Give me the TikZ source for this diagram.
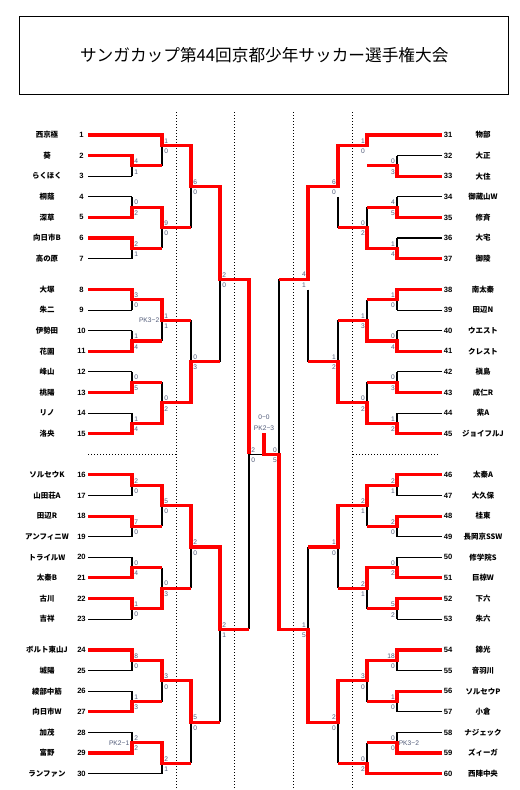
\documentclass[tikz,border=0pt]{standalone}
\usepackage{fontspec}
\setmainfont{Liberation Sans}
\newfontfamily\jpfont{Noto Sans CJK JP}
\definecolor{scoreink}{RGB}{80,90,120}
\tikzset{
    px/.style={x=0.75pt, y=-0.75pt},
    rows/.style={y=-7.725pt, yshift=-101.25pt},
    win/.style={draw=red, line width=2.3pt},
    lose/.style={draw=black, line width=0.8pt},
    guide/.style={draw=black, line width=0.75pt, dash pattern=on 0.75pt off 1.5pt},
    banner/.style={draw, line width=0.8pt, minimum width=367pt, minimum height=59pt,
                   font=\jpfont\fontsize{12.5}{14}\selectfont},
    club/.style={font=\jpfont\bfseries\fontsize{5.6}{6}\selectfont, inner sep=0pt},
    seed/.style={font=\bfseries\fontsize{5.7}{6}\selectfont, inner sep=0pt},
    score/.style={font=\fontsize{5}{6}\selectfont, text=scoreink, inner sep=0pt},
    scoreL/.style={score, anchor=west, xshift=1.5pt},
    scoreR/.style={score, anchor=east, xshift=-1.5pt},
}

\begin{document}
\begin{tikzpicture}[px]
    \useasboundingbox (0,0) rectangle (519,790);

    \node[banner] (title) at (264.25,55.5) {サンガカップ第44回京都少年サッカー選手権大会};

    % round separators
    \draw[guide] (176.7,112) -- (176.7,790);
    \draw[guide] (234,112) -- (234,790);
    \draw[guide] (293.3,112) -- (293.3,790);
    \draw[guide] (352,112) -- (352,790);
    \draw[guide] (88,454) -- (177,454);
    \draw[guide] (353,454) -- (440,454);

    \begin{scope}[rows]
    % clubs, left half
    \foreach \no/\row/\name in {1/0/西京極, 2/2/葵, 3/4/らくほく, 4/6/桐蔭, 5/8/深草,
        6/10/向日市B, 7/12/高の原, 8/15/大塚, 9/17/朱二, 10/19/伊勢田, 11/21/花園,
        12/23/峰山, 13/25/桃陽, 14/27/リノ, 15/29/洛央, 16/33/ソルセウK, 17/35/山田荘A,
        18/37/田辺R, 19/39/アンフィニW, 20/41/トライルW, 21/43/太秦B, 22/45/古川,
        23/47/吉祥, 24/50/ボルト東山J, 25/52/城陽, 26/54/綾部中筋, 27/56/向日市W,
        28/58/加茂, 29/60/富野, 30/62/ランファン}{
        \node[club] (club\no) at (47,\row) {\name};
        \node[seed] (seed\no) at (81.5,\row) {\no};
        \coordinate (line\no) at (88,\row);
    }
    % clubs, right half
    \foreach \no/\row/\name in {31/0/物部, 32/2/大正, 33/4/大住, 34/6/御蔵山W, 35/8/修斉,
        36/10/大宅, 37/12/御陵, 38/15/南太秦, 39/17/田辺N, 40/19/ウエスト, 41/21/クレスト,
        42/23/槇島, 43/25/成仁R, 44/27/紫A, 45/29/ジョイフルJ, 46/33/太秦A, 47/35/大久保,
        48/37/桂東, 49/39/長岡京SSW, 50/41/修学院S, 51/43/巨椋W, 52/45/下六, 53/47/朱六,
        54/50/錦光, 55/52/音羽川, 56/54/ソルセウP, 57/56/小倉, 58/58/ナジェック,
        59/60/ズィーガ, 60/62/西陣中央}{
        \node[club] (club\no) at (483,\row) {\name};
        \node[seed] (seed\no) at (448,\row) {\no};
        \coordinate (line\no) at (442,\row);
    }

    % beaten in their first game
    \foreach \no in {3,4,7,9,10,12,14,17,19,20,23,25,26,28}
        \draw[lose] (line\no) -- ++(44,0);
    \draw[lose] (line30) -- ++(74,0);
    \foreach \no in {32,34,36,39,40,42,44,47,49,50,53,55,57,58}
        \draw[lose] (line\no) -- ++(-45,0);

    % games, left half: x / top / bottom / out / scores
    \foreach \x/\top/\bot/\out/\up/\dn in {132/2/4/3/4/1, 132/6/8/7/0/2, 132/10/12/11/2/1,
        162/0/3/1/1/0, 162/7/11/9/9/0, 191/1/9/5/6/0, 132/15/17/16/3/0, 132/19/21/20/1/4,
        132/23/25/24/0/5, 132/27/29/28/1/4, 162/16/20/18/1/1, 162/24/28/26/0/2,
        191/18/26/22/0/3, 220/5/22/14/2/0, 132/33/35/34/2/0, 132/37/39/38/7/0,
        132/41/43/42/0/4, 132/45/47/46/1/0, 162/34/38/36/5/0, 162/42/46/44/0/3,
        191/36/44/40/2/0, 132/50/52/51/8/0, 132/54/56/55/1/3, 132/58/60/59/2/2,
        162/59/62/61/2/1, 162/51/55/53/3/0, 191/53/61/57/5/0, 220/40/57/48/2/1,
        249/14/48/31/2/0}{
        \draw[lose] (\x,\top) -- (\x,\bot);
        \node[scoreL, yshift=3.4pt] (up-\x-\out) at (\x,\out) {\up};
        \node[scoreL, yshift=-4.4pt] (dn-\x-\out) at (\x,\out) {\dn};
    }
    % games, right half
    \foreach \x/\top/\bot/\out/\up/\dn in {397/2/4/3/0/3, 397/6/8/7/4/5, 397/10/12/11/1/4,
        367/0/1/1/1/0, 367/7/11/9/0/2, 338/6/9/5/6/0, 397/15/17/16/1/0, 397/19/21/20/0/4,
        397/23/25/24/0/3, 397/27/29/28/1/2, 367/16/20/18/1/3, 367/24/28/26/0/2,
        338/18/26/22/1/2, 308/15/22/14/4/1, 397/33/35/34/2/1, 397/37/39/38/2/0,
        397/41/43/42/0/2, 397/45/47/46/5/2, 367/34/38/36/2/1, 367/42/46/44/2/1,
        338/36/44/40/1/0, 397/50/52/51/18/0, 397/54/56/55/1/0, 397/58/60/59/0/0,
        367/59/62/61/0/2, 367/51/55/53/3/0, 338/53/61/57/2/0, 308/40/57/48/1/5,
        279/14/48/31/0/5}{
        \draw[lose] (\x,\top) -- (\x,\bot);
        \node[scoreR, yshift=3.4pt] (up-\x-\out) at (\x,\out) {\up};
        \node[scoreR, yshift=-4.4pt] (dn-\x-\out) at (\x,\out) {\dn};
    }
    \draw[lose] (249,31) -- (264,31);

    % winners' runs
    \draw[win] (line1) -| (162,1) -| (191,5) -| (220,14) -| (249,31);
    \draw[win] (line2) -| (132,3) -- (162,3);
    \draw[win] (line5) -| (132,7) -| (162,9) -- (191,9);
    \draw[win] (line6) -| (132,11) -- (162,11);
    \draw[win] (line8) -| (132,16) -| (162,18) -- (191,18);
    \draw[win] (line11) -| (132,20) -- (162,20);
    \draw[win] (line13) -| (132,24) -- (162,24);
    \draw[win] (line15) -| (132,28) -| (162,26) -| (191,22) -- (220,22);
    \draw[win] (line16) -| (132,34) -| (162,36) -| (191,40) -| (220,48) -- (249,48);
    \draw[win] (line18) -| (132,38) -- (162,38);
    \draw[win] (line21) -| (132,42) -- (162,42);
    \draw[win] (line22) -| (132,46) -| (162,44) -- (191,44);
    \draw[win] (line24) -| (132,51) -| (162,53) -| (191,57) -- (220,57);
    \draw[win] (line27) -| (132,55) -- (162,55);
    \draw[win] (line29) -| (132,59) -| (162,61) -- (191,61);

    \draw[win] (line31) -| (367,1) -| (338,5) -| (308,14) -- (279,14);
    \draw[win] (line33) -| (397,3) -- (367,3);
    \draw[win] (line35) -| (397,7) -- (367,7);
    \draw[win] (line37) -| (397,11) -| (367,9) -- (338,9);
    \draw[win] (line38) -| (397,16) -- (367,16);
    \draw[win] (line41) -| (397,20) -| (367,18) -- (338,18);
    \draw[win] (line43) -| (397,24) -- (367,24);
    \draw[win] (line45) -| (397,28) -| (367,26) -| (338,22) -- (308,22);
    \draw[win] (line46) -| (397,34) -| (367,36) -| (338,40) -- (308,40);
    \draw[win] (line48) -| (397,38) -- (367,38);
    \draw[win] (line51) -| (397,42) -| (367,44) -- (338,44);
    \draw[win] (line52) -| (397,46) -- (367,46);
    \draw[win] (line54) -| (397,51) -| (367,53) -| (338,57) -| (308,48) -| (279,31) -| (264,28.9);
    \draw[win] (line56) -| (397,55) -- (367,55);
    \draw[win] (line59) -| (397,59) -- (367,59);
    \draw[win] (line60) -| (367,61) -- (338,61);

    % penalty shoot-outs and final
    \node[score, anchor=east] (pk-b) at (159.5,18) {PK3−2};
    \node[score, anchor=east] (pk-d) at (129.5,59) {PK2−1};
    \node[score, anchor=west] (pk-rd) at (398.5,59) {PK3−2};
    \node[score] (final) at (264,27.4) {0−0};
    \node[score] (final-pk) at (264,28.45) {PK2−3};
    \end{scope}
\end{tikzpicture}
\end{document}
